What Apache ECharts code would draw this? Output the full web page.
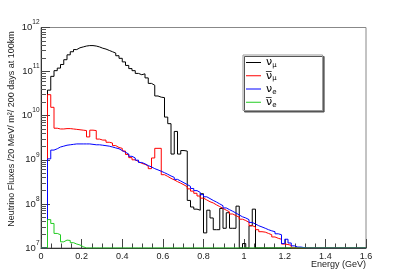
<!DOCTYPE html>
<html><head><meta charset="utf-8">
<script src="https://cdn.jsdelivr.net/npm/echarts@6/dist/echarts.min.js"></script>
<style>html,body{margin:0;padding:0;background:#fff}#c{width:407px;height:277px}</style>
</head><body><div id="c"></div>
<script>
// ---- histogram binning (x axis: Energy in GeV) ----
const BIN_WIDTH = 0.016;
const X_MIN = 0, X_MAX = 1.6, X_INTERVAL = 0.2;
const Y_MIN = 1e7, Y_MAX = 1e12;

// ---- series names & legend labels ----
const seriesNames = ['numu', 'numubar', 'nue', 'nuebar'];
const legendLabels = ['{n|ν}{s|μ}', '{n|ν\u0305}{s|μ}', '{n|ν}{s|e}', '{n|ν\u0305}{s|e}'];
const seriesColors = ['#000000', '#ff0000', '#0000ff', '#22cc22'];

// ---- fluxes per bin (100 bins of 16 MeV); 1e7 = empty / at floor ----
const numuFlux = [
  1e7, 1e7, 3.8e10, 7.8e10, 1.05e11, 1.2e11, 1.45e11, 1.86e11, 2.4e11, 2.82e11,
  3.16e11, 3.47e11, 3.63e11, 3.8e11, 3.89e11, 3.89e11, 3.8e11, 3.63e11, 3.39e11, 3.24e11,
  3.02e11, 2.82e11, 2.63e11, 2.29e11, 2.0e11, 1.66e11, 1.38e11, 1.17e11, 1.05e11, 9.1e10,
  8.5e10, 8.9e10, 7.2e10, 5.4e10, 4.9e10, 2.8e10, 2.63e10, 2.57e10, 9.3e9, 6.6e9,
  1.35e9, 4.4e9, 1.35e9, 1.62e9, 1.58e9, 1.2e8, 8.5e7, 7.6e7, 7.2e7, 1.7e8,
  2.2e7, 7.2e7, 4.8e7, 2.6e7, 2.6e7, 7.9e7, 2.8e7, 6.3e7, 2.8e7, 2.8e7,
  8.9e7, 1e7, 1.26e7, 1e7, 3.2e7, 7.6e7, 1e7, 1e7, 1e7, 1e7,
  1e7, 1e7, 1e7, 1e7, 1e7, 1e7, 1e7, 1e7, 1e7, 1e7,
  1e7, 1e7, 1e7, 1e7, 1e7, 1e7, 1e7, 1e7, 1e7, 1e7,
  1e7, 1e7, 1e7, 1e7, 1e7, 1e7, 1e7, 1e7, 1e7, 1e7
];
const numubarFlux = [
  1e7, 1e7, 3.0e10, 1.55e10, 5.2e9, 5.0e9, 5.0e9, 5.1e9, 5.1e9, 5.0e9,
  4.9e9, 4.8e9, 4.7e9, 4.6e9, 3.3e9, 4.7e9, 4.6e9, 2.95e9, 2.8e9, 2.8e9,
  2.5e9, 2.4e9, 2.1e9, 1.9e9, 1.82e9, 1.58e9, 1.32e9, 1.12e9, 1.0e9, 9.1e8,
  8.3e8, 7.9e8, 7.2e8, 6.3e8, 1.1e9, 1.82e9, 1.82e9, 4.6e8, 4.2e8, 3.8e8,
  3.5e8, 3.2e8, 2.95e8, 2.7e8, 2.45e8, 2.19e8, 1.95e8, 1.74e8, 1.51e8, 1.35e8,
  1.23e8, 1.12e8, 1.05e8, 9.5e7, 8.7e7, 7.9e7, 7.2e7, 6.6e7, 5.9e7, 5.4e7,
  5.0e7, 4.5e7, 4.2e7, 3.8e7, 3.2e7, 3.0e7, 2.6e7, 2.34e7, 2.29e7, 2.14e7,
  2.0e7, 1.78e7, 1.66e7, 1.58e7, 1.23e7, 1.2e7, 1.15e7, 1e7, 1e7, 1e7,
  1e7, 1e7, 1e7, 1e7, 1e7, 1e7, 1e7, 1e7, 1e7, 1e7,
  1e7, 1e7, 1e7, 1e7, 1e7, 1e7, 1e7, 1e7, 1e7, 1e7
];
const nueFlux = [
  1e7, 1e7, 1.05e9, 1.66e9, 1.78e9, 1.95e9, 2.04e9, 2.14e9, 2.19e9, 2.24e9,
  2.29e9, 2.29e9, 2.29e9, 2.29e9, 2.29e9, 2.24e9, 2.19e9, 2.19e9, 2.14e9, 2.09e9,
  2.04e9, 1.95e9, 1.86e9, 1.78e9, 1.62e9, 1.48e9, 1.35e9, 1.2e9, 1.1e9, 9.8e8,
  8.7e8, 8.1e8, 7.4e8, 6.9e8, 6.3e8, 5.9e8, 5.5e8, 5.1e8, 4.7e8, 4.3e8,
  4.0e8, 3.6e8, 3.3e8, 3.0e8, 2.75e8, 2.5e8, 2.24e8, 2.0e8, 1.82e8, 1.62e8,
  1.45e8, 1.32e8, 1.2e8, 1.1e8, 1.0e8, 9.1e7, 8.1e7, 7.4e7, 6.8e7, 6.2e7,
  5.6e7, 5.1e7, 4.8e7, 4.4e7, 3.8e7, 3.5e7, 3.2e7, 3.0e7, 2.8e7, 2.6e7,
  2.45e7, 2.34e7, 2.1e7, 2.0e7, 1.26e7, 1.58e7, 1.3e7, 1.12e7, 1.05e7, 1.05e7,
  1.02e7, 1e7, 1e7, 1e7, 1e7, 1e7, 1e7, 1e7, 1e7, 1e7,
  1e7, 1e7, 1e7, 1e7, 1e7, 1e7, 1e7, 1e7, 1e7, 1e7
];
const nuebarFlux = [
  1e7, 1e7, 4.4e7, 3.6e7, 2.14e7, 2.0e7, 1.38e7, 1.51e7, 1.48e7, 1.32e7,
  1.23e7, 1.17e7, 1.07e7, 1e7, 1e7, 1e7, 1e7, 1e7, 1e7, 1e7,
  1e7, 1e7, 1e7, 1e7, 1e7, 1e7, 1e7, 1e7, 1e7, 1e7,
  1e7, 1e7, 1e7, 1e7, 1e7, 1e7, 1e7, 1e7, 1e7, 1e7,
  1e7, 1e7, 1e7, 1e7, 1e7, 1e7, 1e7, 1e7, 1e7, 1e7,
  1e7, 1e7, 1e7, 1e7, 1e7, 1e7, 1e7, 1e7, 1e7, 1e7,
  1e7, 1e7, 1e7, 1e7, 1e7, 1e7, 1e7, 1e7, 1e7, 1e7,
  1e7, 1e7, 1e7, 1e7, 1e7, 1e7, 1e7, 1e7, 1e7, 1e7,
  1e7, 1e7, 1e7, 1e7, 1e7, 1e7, 1e7, 1e7, 1e7, 1e7,
  1e7, 1e7, 1e7, 1e7, 1e7, 1e7, 1e7, 1e7, 1e7, 1e7
];

// ---- axis tick values ----
const yMajorTicks = [1e7, 1e8, 1e9, 1e10, 1e11, 1e12];
const yMinorMantissas = [2, 3, 4, 5, 6, 7, 8, 9];
const yTitle = 'Neutrino Fluxes /20 MeV/ m\u00b2/ 200 days at 100km';
const xTitle = 'Energy (GeV)';

const allFlux = [numuFlux, numubarFlux, nueFlux, nuebarFlux];
const yMinorTicks = [];
for (let d = 0; d < yMajorTicks.length - 1; d++) {
  yMinorMantissas.forEach(m => yMinorTicks.push(m * yMajorTicks[d]));
}

function toSteps(vals) {
  const pts = vals.map((v, i) => [i * BIN_WIDTH, v]);
  pts.push([vals.length * BIN_WIDTH, vals[vals.length - 1]]);
  return pts;
}

const FONT = '"Liberation Sans", Arial, Helvetica, sans-serif';
const chart = echarts.init(document.getElementById('c'), null, {renderer: 'canvas', width: 407, height: 277});

const labelMap = {};
seriesNames.forEach((n, i) => labelMap[n] = legendLabels[i]);

chart.setOption({
  animation: false,
  backgroundColor: '#ffffff',
  grid: {left: 41, right: 41, top: 27.5, bottom: 29, show: true, borderColor: '#888', borderWidth: 1, containLabel: false},
  xAxis: {
    type: 'value', min: X_MIN, max: X_MAX, interval: X_INTERVAL,
    axisLine: {show: true, onZero: false, lineStyle: {color: '#333', width: 1}},
    axisTick: {show: true, inside: true, length: 9, lineStyle: {color: '#444'}},
    minorTick: {show: true, splitNumber: 4, length: 4.5, lineStyle: {color: '#444'}},
    splitLine: {show: false}, minorSplitLine: {show: false},
    axisLabel: {margin: 4, fontSize: 9, fontFamily: FONT, color: '#222', showMinLabel: true, showMaxLabel: true}
  },
  yAxis: [
    {
      type: 'log', logBase: 10, min: Y_MIN, max: Y_MAX,
      axisLine: {show: true, lineStyle: {color: '#333', width: 1}},
      axisTick: {show: true, inside: true, length: 9, lineStyle: {color: '#444'}, customValues: yMajorTicks},
      splitLine: {show: false},
      axisLabel: {
        margin: 1.5, customValues: yMajorTicks,
        formatter: v => '{b|10}{e|' + Math.round(Math.log10(v)) + '}',
        rich: {
          b: {fontSize: 9.5, lineHeight: 20, verticalAlign: 'middle', fontFamily: FONT, color: '#222'},
          e: {fontSize: 6.5, lineHeight: 7, verticalAlign: 'top', padding: [1.5, 0, 0, 0], fontFamily: FONT, color: '#222'}
        }
      }
    },
    {
      type: 'log', logBase: 10, min: Y_MIN, max: Y_MAX, position: 'left',
      axisLine: {show: false}, axisLabel: {show: false}, splitLine: {show: false},
      axisTick: {show: true, inside: true, length: 5, lineStyle: {color: '#555'}, customValues: yMinorTicks}
    }
  ],
  legend: {
    orient: 'vertical', left: 243, top: 55,
    data: seriesNames, selectedMode: false,
    icon: 'rect', itemWidth: 15, itemHeight: 1, itemGap: 1.5,
    padding: [2, 46, 2, 3],
    backgroundColor: '#fff', borderColor: '#999', borderWidth: 1,
    shadowColor: '#555', shadowOffsetX: 1.5, shadowOffsetY: 1.5, shadowBlur: 0,
    formatter: name => labelMap[name],
    textStyle: {
      color: '#000', fontFamily: FONT,
      rich: {
        n: {fontSize: 11, lineHeight: 12.5, verticalAlign: 'middle', fontFamily: 'DejaVu Sans', color: '#000'},
        s: {fontSize: 7, lineHeight: 7, verticalAlign: 'bottom', fontFamily: 'DejaVu Sans', color: '#000'}
      }
    }
  },
  graphic: [
    {type: 'text', x: 11.5, y: 129, rotation: Math.PI / 2, silent: true,
     style: {text: yTitle, fontSize: 9, fontFamily: FONT, fill: '#222', align: 'center', verticalAlign: 'middle'}},
    {type: 'text', x: 366, y: 264.5, silent: true,
     style: {text: xTitle, fontSize: 9, fontFamily: FONT, fill: '#222', align: 'right', verticalAlign: 'middle'}}
  ],
  series: seriesNames.map((name, i) => ({
    name: name, type: 'line', step: 'end', showSymbol: false, symbol: 'none',
    xAxisIndex: 0, yAxisIndex: 0, silent: true, clip: true,
    lineStyle: {color: seriesColors[i], width: 1},
    itemStyle: {color: seriesColors[i]},
    data: toSteps(allFlux[i])
  }))
});
</script></body></html>
